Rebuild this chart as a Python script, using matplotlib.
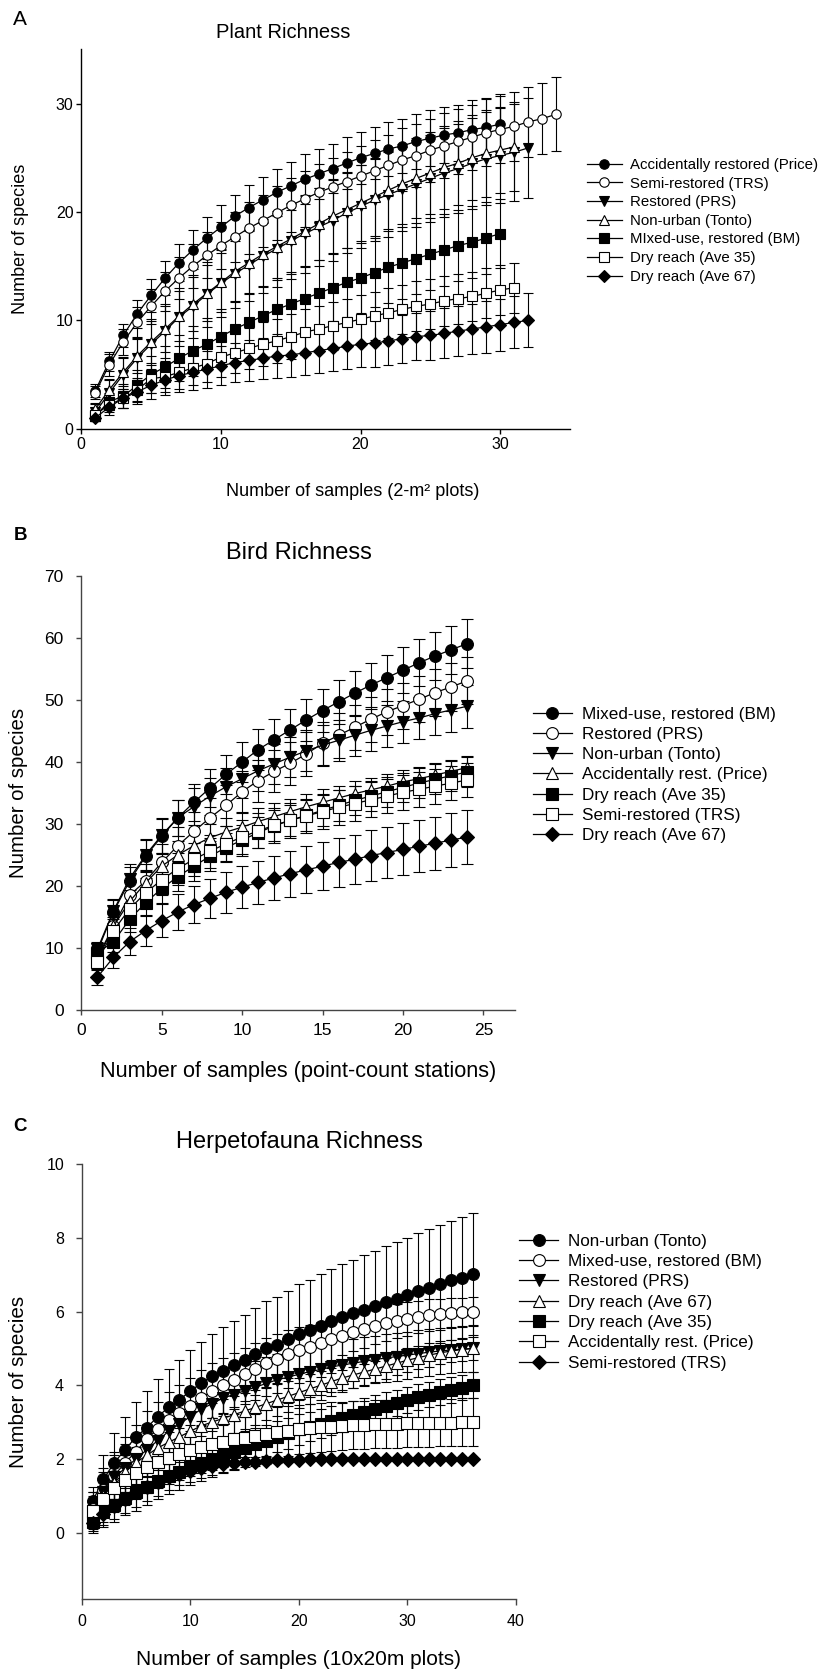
import matplotlib
matplotlib.use("Agg")
import matplotlib.pyplot as plt

plt.rcParams['font.family'] = ['Liberation Sans', 'DejaVu Sans']

# ---------------- Panel A: plant richness ----------------
a_labels = ["Accidentally restored (Price)", "Semi-restored (TRS)", "Restored (PRS)",
            "Non-urban (Tonto)", "MIxed-use, restored (BM)", "Dry reach (Ave 35)",
            "Dry reach (Ave 67)"]
a_price = [3.5, 6.2, 8.6, 10.6, 12.3, 13.9, 15.3, 16.5, 17.6, 18.6, 19.6, 20.4, 21.1, 21.8, 22.4,
           23.0, 23.5, 24.0, 24.5, 25.0, 25.4, 25.8, 26.1, 26.5, 26.8, 27.1, 27.3, 27.6, 27.8, 28.1]
a_price_err = [0.6, 0.9, 1.1, 1.3, 1.5, 1.6, 1.7, 1.8, 1.9, 2.0, 2.0, 2.1, 2.1, 2.2, 2.2,
               2.3, 2.3, 2.3, 2.4, 2.4, 2.4, 2.5, 2.5, 2.5, 2.6, 2.6, 2.6, 2.7, 2.7, 2.8]
a_trs = [3.3, 5.9, 8.0, 9.8, 11.3, 12.7, 13.9, 15.0, 16.0, 16.9, 17.7, 18.5, 19.2, 19.9, 20.6, 21.2, 21.8,
         22.3, 22.8, 23.3, 23.8, 24.3, 24.8, 25.2, 25.7, 26.1, 26.5, 26.9, 27.3, 27.6, 27.9, 28.3, 28.6, 29.0]
a_trs_err = [0.6, 1.0, 1.2, 1.4, 1.6, 1.8, 1.9, 2.0, 2.1, 2.2, 2.3, 2.4, 2.4, 2.5, 2.5, 2.6, 2.6,
             2.7, 2.7, 2.8, 2.8, 2.8, 2.9, 2.9, 2.9, 3.0, 3.0, 3.0, 3.1, 3.1, 3.2, 3.2, 3.3, 3.4]
a_prs = [1.5, 3.3, 5.0, 6.5, 7.8, 9.0, 10.3, 11.3, 12.4, 13.4, 14.3, 15.1, 15.9, 16.6, 17.3, 18.0,
         18.6, 19.2, 19.9, 20.5, 21.1, 21.6, 22.1, 22.6, 23.1, 23.6, 24.0, 24.5, 24.9, 25.2, 25.5, 25.9]
a_prs_err = [0.8, 1.2, 1.6, 2.0, 2.3, 2.5, 2.7, 2.9, 3.0, 3.1, 3.2, 3.3, 3.4, 3.5, 3.5, 3.6,
             3.6, 3.7, 3.7, 3.8, 3.8, 3.9, 3.9, 4.0, 4.0, 4.1, 4.1, 4.2, 4.3, 4.4, 4.5, 4.6]
a_tonto = [1.8, 3.6, 5.2, 6.7, 8.0, 9.2, 10.4, 11.5, 12.5, 13.5, 14.5, 15.3, 16.1, 16.8, 17.5, 18.2,
           18.9, 19.6, 20.2, 20.8, 21.4, 22.0, 22.6, 23.1, 23.6, 24.1, 24.5, 25.0, 25.4, 25.7, 26.0]
a_tonto_err = [0.6, 1.0, 1.3, 1.6, 1.9, 2.1, 2.3, 2.5, 2.6, 2.7, 2.8, 2.9, 3.0, 3.1, 3.2, 3.3,
               3.3, 3.4, 3.5, 3.5, 3.6, 3.6, 3.7, 3.7, 3.8, 3.8, 3.9, 3.9, 4.0, 4.0, 4.1]
a_bm = [1.2, 2.5, 3.0, 4.0, 5.0, 5.7, 6.5, 7.2, 7.8, 8.5, 9.2, 9.8, 10.4, 11.0, 11.5,
        12.0, 12.5, 13.0, 13.5, 13.9, 14.4, 14.9, 15.3, 15.7, 16.1, 16.5, 16.9, 17.2, 17.6, 18.0]
a_bm_err = [0.5, 0.8, 1.1, 1.4, 1.7, 1.9, 2.1, 2.3, 2.4, 2.5, 2.6, 2.7, 2.8, 2.9, 3.0,
            3.0, 3.1, 3.1, 3.2, 3.2, 3.2, 3.3, 3.3, 3.3, 3.3, 3.3, 3.3, 3.3, 3.3, 3.2]
a_dry35 = [1.3, 2.2, 2.8, 3.6, 4.6, 4.8, 5.2, 5.6, 6.0, 6.6, 7.0, 7.4, 7.8, 8.1, 8.5, 8.9,
           9.2, 9.5, 9.8, 10.1, 10.4, 10.7, 11.0, 11.3, 11.5, 11.8, 12.0, 12.2, 12.5, 12.8, 13.0]
a_dry35_err = [0.4, 0.7, 0.9, 1.1, 1.3, 1.4, 1.5, 1.6, 1.7, 1.8, 1.9, 1.9, 2.0, 2.0, 2.1, 2.1,
               2.1, 2.2, 2.2, 2.2, 2.2, 2.3, 2.3, 2.3, 2.3, 2.3, 2.3, 2.3, 2.3, 2.3, 2.3]
a_dry67 = [1.0, 2.0, 2.8, 3.4, 4.0, 4.5, 4.9, 5.2, 5.5, 5.8, 6.1, 6.3, 6.5, 6.7, 6.8, 7.0,
           7.2, 7.4, 7.6, 7.8, 7.9, 8.1, 8.3, 8.5, 8.6, 8.8, 9.0, 9.2, 9.4, 9.6, 9.8, 10.0]
a_dry67_err = [0.3, 0.7, 0.9, 1.1, 1.3, 1.4, 1.5, 1.6, 1.7, 1.8, 1.8, 1.9, 1.9, 2.0, 2.0, 2.0,
               2.1, 2.1, 2.1, 2.1, 2.2, 2.2, 2.2, 2.2, 2.3, 2.3, 2.3, 2.3, 2.4, 2.4, 2.4, 2.5]

# ---------------- Panel B: bird richness ----------------
b_labels = ["Mixed-use, restored (BM)", "Restored (PRS)", "Non-urban (Tonto)",
            "Accidentally rest. (Price)", "Dry reach (Ave 35)", "Semi-restored (TRS)",
            "Dry reach (Ave 67)"]
b_bm = [9.5, 15.8, 20.8, 24.8, 28.0, 31.0, 33.5, 35.8, 38.0, 40.0, 42.0, 43.6,
        45.2, 46.8, 48.3, 49.7, 51.1, 52.4, 53.6, 54.8, 56.0, 57.1, 58.1, 59.1]
b_bm_err = [1.3, 2.0, 2.3, 2.6, 2.8, 2.9, 3.0, 3.1, 3.2, 3.2, 3.3, 3.3,
            3.4, 3.4, 3.5, 3.5, 3.6, 3.6, 3.7, 3.7, 3.8, 3.8, 3.9, 4.0]
b_prs = [8.0, 13.5, 18.5, 20.8, 23.8, 26.5, 28.8, 31.0, 33.0, 35.2, 37.0, 38.5,
         39.8, 41.3, 43.0, 44.3, 45.6, 46.9, 48.1, 49.1, 50.1, 51.2, 52.1, 53.1]
b_prs_err = [1.3, 2.0, 2.4, 2.7, 2.9, 3.0, 3.1, 3.2, 3.3, 3.3, 3.4, 3.4,
             3.5, 3.5, 3.5, 3.6, 3.6, 3.6, 3.7, 3.7, 3.7, 3.8, 3.8, 3.8]
b_tonto = [9.8, 16.0, 21.2, 25.0, 28.2, 31.0, 32.8, 34.5, 36.0, 37.3, 38.6, 39.7,
           40.8, 41.8, 42.7, 43.5, 44.3, 45.1, 45.8, 46.5, 47.1, 47.8, 48.4, 49.0]
b_tonto_err = [1.2, 1.9, 2.3, 2.6, 2.8, 2.9, 3.0, 3.0, 3.1, 3.1, 3.2, 3.2,
               3.2, 3.3, 3.3, 3.3, 3.3, 3.4, 3.4, 3.4, 3.4, 3.5, 3.5, 3.5]
b_price = [8.5, 13.5, 17.5, 20.5, 23.2, 25.0, 26.5, 27.8, 28.7, 29.5, 30.4, 31.2,
           32.0, 32.8, 33.5, 34.2, 34.9, 35.5, 36.1, 36.8, 37.3, 37.9, 38.5, 39.1]
b_price_err = [1.0, 1.5, 1.8, 2.0, 2.1, 2.2, 2.2, 2.2, 2.2, 2.2, 2.2, 2.2,
               2.1, 2.1, 2.1, 2.0, 2.0, 2.0, 2.0, 1.9, 1.9, 1.9, 1.8, 1.8]
b_dry35 = [9.2, 11.0, 14.6, 17.3, 19.6, 21.5, 23.2, 24.8, 26.2, 27.4, 28.6, 29.7,
           30.6, 31.4, 32.2, 33.0, 33.8, 34.5, 35.2, 35.9, 36.6, 37.2, 37.8, 38.4]
b_dry35_err = [1.2, 1.7, 2.0, 2.2, 2.3, 2.3, 2.4, 2.4, 2.4, 2.5, 2.5, 2.5,
               2.5, 2.5, 2.5, 2.5, 2.4, 2.4, 2.4, 2.4, 2.4, 2.4, 2.4, 2.4]
b_trs = [7.8, 12.8, 16.3, 18.9, 21.0, 22.8, 24.3, 25.6, 26.8, 27.9, 28.9, 29.8,
         30.6, 31.3, 32.0, 32.7, 33.3, 33.9, 34.5, 35.1, 35.6, 36.1, 36.6, 37.1]
b_trs_err = [1.2, 1.8, 2.2, 2.4, 2.5, 2.6, 2.7, 2.7, 2.8, 2.8, 2.8, 2.8,
             2.8, 2.8, 2.8, 2.8, 2.8, 2.8, 2.8, 2.8, 2.8, 2.8, 2.8, 2.8]
b_dry67 = [5.3, 8.5, 11.0, 12.8, 14.4, 15.8, 17.0, 18.0, 19.0, 19.8, 20.6, 21.3,
           22.0, 22.6, 23.2, 23.8, 24.3, 24.9, 25.4, 25.9, 26.4, 26.9, 27.4, 27.9]
b_dry67_err = [1.2, 1.8, 2.2, 2.5, 2.7, 2.9, 3.0, 3.2, 3.3, 3.4, 3.5, 3.6,
               3.7, 3.8, 3.9, 4.0, 4.0, 4.1, 4.1, 4.2, 4.2, 4.3, 4.3, 4.4]

# ---------------- Panel C: herpetofauna richness ----------------
c_labels = ["Non-urban (Tonto)", "Mixed-use, restored (BM)", "Restored (PRS)",
            "Dry reach (Ave 67)", "Dry reach (Ave 35)", "Accidentally rest. (Price)",
            "Semi-restored (TRS)"]
c_tonto = [0.85, 1.45, 1.9, 2.25, 2.6, 2.85, 3.15, 3.4, 3.6, 3.85, 4.05, 4.25,
           4.4, 4.55, 4.7, 4.85, 5.0, 5.1, 5.25, 5.4, 5.5, 5.62, 5.75, 5.85,
           5.95, 6.05, 6.15, 6.25, 6.35, 6.45, 6.55, 6.65, 6.75, 6.85, 6.92, 7.02]
c_tonto_err = [0.4, 0.65, 0.8, 0.9, 0.95, 1.0, 1.02, 1.05, 1.08, 1.1, 1.12, 1.15,
               1.18, 1.2, 1.22, 1.25, 1.28, 1.3, 1.32, 1.35, 1.37, 1.4, 1.42, 1.44,
               1.46, 1.48, 1.5, 1.52, 1.54, 1.56, 1.58, 1.6, 1.61, 1.62, 1.64, 1.65]
c_bm = [0.65, 1.15, 1.55, 1.9, 2.2, 2.55, 2.8, 3.05, 3.25, 3.45, 3.65, 3.85,
        4.0, 4.15, 4.3, 4.45, 4.6, 4.72, 4.85, 4.95, 5.05, 5.15, 5.25, 5.35,
        5.45, 5.52, 5.6, 5.68, 5.75, 5.8, 5.85, 5.9, 5.93, 5.96, 5.98, 6.0]
c_bm_err = [0.45, 0.6, 0.65, 0.7, 0.72, 0.74, 0.75, 0.76, 0.76, 0.76, 0.76, 0.75,
            0.74, 0.73, 0.72, 0.7, 0.68, 0.66, 0.64, 0.62, 0.6, 0.58, 0.56, 0.54,
            0.52, 0.5, 0.49, 0.48, 0.46, 0.45, 0.44, 0.43, 0.42, 0.41, 0.4, 0.4]
c_prs = [0.6, 1.1, 1.5, 1.75, 2.0, 2.25, 2.5, 2.75, 2.95, 3.15, 3.35, 3.5,
         3.65, 3.75, 3.85, 3.95, 4.05, 4.15, 4.22, 4.3, 4.37, 4.43, 4.5, 4.55,
         4.6, 4.65, 4.7, 4.74, 4.78, 4.82, 4.86, 4.9, 4.93, 4.96, 4.98, 5.0]
c_prs_err = [0.4, 0.55, 0.6, 0.65, 0.68, 0.7, 0.72, 0.73, 0.74, 0.74, 0.74, 0.74,
             0.73, 0.73, 0.72, 0.72, 0.71, 0.7, 0.7, 0.69, 0.68, 0.68, 0.67, 0.67,
             0.66, 0.66, 0.65, 0.65, 0.65, 0.64, 0.64, 0.64, 0.63, 0.63, 0.63, 0.63]
c_dry67 = [0.55, 1.0, 1.35, 1.65, 1.9, 2.1, 2.3, 2.45, 2.6, 2.75, 2.9, 3.0,
           3.1, 3.2, 3.3, 3.4, 3.5, 3.6, 3.7, 3.8, 3.9, 4.0, 4.1, 4.2,
           4.28, 4.36, 4.44, 4.52, 4.6, 4.68, 4.75, 4.82, 4.88, 4.93, 4.97, 5.0]
c_dry67_err = [0.35, 0.5, 0.55, 0.58, 0.6, 0.6, 0.6, 0.6, 0.58, 0.56, 0.55, 0.53,
               0.52, 0.5, 0.48, 0.47, 0.45, 0.44, 0.42, 0.41, 0.4, 0.39, 0.38, 0.37,
               0.36, 0.35, 0.34, 0.34, 0.33, 0.33, 0.32, 0.32, 0.31, 0.31, 0.3, 0.3]
c_dry35 = [0.3, 0.55, 0.75, 0.95, 1.1, 1.25, 1.4, 1.55, 1.65, 1.78, 1.9, 2.0,
           2.1, 2.2, 2.3, 2.4, 2.5, 2.6, 2.7, 2.8, 2.88, 2.96, 3.04, 3.12,
           3.2, 3.28, 3.36, 3.44, 3.52, 3.6, 3.68, 3.75, 3.82, 3.88, 3.94, 4.0]
c_dry35_err = [0.3, 0.4, 0.45, 0.48, 0.5, 0.5, 0.5, 0.5, 0.5, 0.5, 0.49, 0.48,
               0.47, 0.46, 0.45, 0.44, 0.43, 0.42, 0.42, 0.41, 0.4, 0.4, 0.39, 0.39,
               0.38, 0.38, 0.37, 0.37, 0.36, 0.36, 0.36, 0.35, 0.35, 0.35, 0.35, 0.35]
c_price = [0.6, 0.9, 1.2, 1.42, 1.62, 1.78, 1.92, 2.03, 2.13, 2.23, 2.33, 2.4,
           2.47, 2.53, 2.58, 2.63, 2.67, 2.72, 2.76, 2.8, 2.83, 2.86, 2.88, 2.9,
           2.92, 2.93, 2.94, 2.95, 2.96, 2.97, 2.98, 2.98, 2.99, 2.99, 3.0, 3.0]
c_price_err = [0.5, 0.6, 0.65, 0.68, 0.7, 0.7, 0.7, 0.7, 0.7, 0.7, 0.7, 0.7,
               0.7, 0.69, 0.69, 0.68, 0.68, 0.68, 0.67, 0.67, 0.67, 0.66, 0.66, 0.66,
               0.66, 0.65, 0.65, 0.65, 0.65, 0.65, 0.65, 0.65, 0.65, 0.65, 0.65, 0.65]
c_trs = [0.25, 0.5, 0.72, 0.92, 1.1, 1.25, 1.38, 1.5, 1.6, 1.68, 1.75, 1.8,
         1.85, 1.88, 1.91, 1.93, 1.95, 1.96, 1.97, 1.98, 1.99, 1.99, 2.0, 2.0,
         2.0, 2.0, 2.0, 2.0, 2.0, 2.0, 2.0, 2.0, 2.0, 2.0, 2.0, 2.0]
c_trs_err = [0.2, 0.3, 0.35, 0.38, 0.4, 0.4, 0.38, 0.35, 0.32, 0.3, 0.27, 0.24,
             0.2, 0.17, 0.14, 0.11, 0.09, 0.07, 0.05, 0.04, 0.03, 0.02, 0.01, 0.01,
             0.0, 0.0, 0.0, 0.0, 0.0, 0.0, 0.0, 0.0, 0.0, 0.0, 0.0, 0.0]

markers = ['o', 'o', 'v', '^', 's', 's', 'D']
filled = [True, False, True, False, True, False, True]

W, H = 820, 1672
fig = plt.figure(figsize=(W / 100, H / 100), dpi=100)


def rect(left, top, right, bottom):
    return [left / W, 1 - bottom / H, (right - left) / W, (bottom - top) / H]


def put(x, y, s, **kw):
    fig.text(x / W, 1 - y / H, s, **kw)


def panel(ax, labels, series, errs, ms, cap, spine_col):
    handles = []
    for lab, ys, es, mk, fl in zip(labels, series, errs, markers, filled):
        xs = list(range(1, len(ys) + 1))
        ms_k = ms * 0.85 if mk == 'D' else ms
        c = ax.errorbar(xs, ys, yerr=es, fmt='-', marker=mk, color='black',
                        mfc='black' if fl else 'white', mec='black', ms=ms_k, mew=0.8,
                        lw=0.9, elinewidth=0.8, capsize=cap, capthick=0.8)
        handles.append(c[0])
    for s in ['top', 'right']:
        ax.spines[s].set_visible(False)
    for s in ['left', 'bottom']:
        ax.spines[s].set_color(spine_col)
        ax.spines[s].set_linewidth(1.0)
    ax.tick_params(direction='out', color=spine_col, width=1.0)
    return handles


# Panel A
axA = fig.add_axes(rect(81.3, 49.3, 570, 428.7))
hA = panel(axA, a_labels, [a_price, a_trs, a_prs, a_tonto, a_bm, a_dry35, a_dry67],
           [a_price_err, a_trs_err, a_prs_err, a_tonto_err, a_bm_err, a_dry35_err, a_dry67_err],
           6.8, 3.4, 'black')
axA.set_xlim(0, 35)
axA.set_ylim(0, 35)
axA.set_xticks([0, 10, 20, 30])
axA.set_yticks([0, 10, 20, 30])
axA.tick_params(labelsize=11.5, length=3.6)
axA.tick_params(axis='x', pad=2.5)
axA.tick_params(axis='y', pad=2)
fig.legend(hA, a_labels, loc='center left', bbox_to_anchor=(587 / W, 1 - 220.8 / H),
           frameon=False, fontsize=10.8, handlelength=2.33, handletextpad=0.53,
           labelspacing=0.31, borderpad=0, borderaxespad=0)
put(20, 25, "A", fontsize=15, ha='center', va='baseline')
put(283.6, 38.3, "Plant Richness", fontsize=14.5, ha='center', va='baseline')
put(20.5, 239, "Number of species", fontsize=13, rotation=90, ha='center', va='center')
put(353, 496, "Number of samples (2-m² plots)", fontsize=13, ha='center', va='baseline')

# Panel B
axB = fig.add_axes(rect(81.3, 576, 515.5, 1010))
hB = panel(axB, b_labels, [b_bm, b_prs, b_tonto, b_price, b_dry35, b_trs, b_dry67],
           [b_bm_err, b_prs_err, b_tonto_err, b_price_err, b_dry35_err, b_trs_err, b_dry67_err],
           8.5, 4.3, '#444444')
axB.set_xlim(0, 27)
axB.set_ylim(0, 70)
axB.set_xticks([0, 5, 10, 15, 20, 25])
axB.set_yticks([0, 10, 20, 30, 40, 50, 60, 70])
axB.tick_params(labelsize=12.5, length=3.6)
axB.tick_params(axis='x', pad=6)
axB.tick_params(axis='y', pad=9)
fig.legend(hB, b_labels, loc='center left', bbox_to_anchor=(532.7 / W, 1 - 774.9 / H),
           frameon=False, fontsize=12.3, handlelength=2.28, handletextpad=0.58,
           labelspacing=0.31, borderpad=0, borderaxespad=0)
put(20.7, 540, "B", fontsize=13.5, fontweight='bold', ha='center', va='baseline')
put(299, 559.3, "Bird Richness", fontsize=17, ha='center', va='baseline')
put(19, 793, "Number of species", fontsize=14.7, rotation=90, ha='center', va='center')
put(298, 1077, "Number of samples (point-count stations)", fontsize=15.7,
    ha='center', va='baseline')

# Panel C
axC = fig.add_axes(rect(81.7, 1164.3, 516, 1599.3))
hC = panel(axC, c_labels, [c_tonto, c_bm, c_prs, c_dry67, c_dry35, c_price, c_trs],
           [c_tonto_err, c_bm_err, c_prs_err, c_dry67_err, c_dry35_err, c_price_err, c_trs_err],
           8.5, 3.8, '#444444')
axC.set_xlim(0, 40)
axC.set_ylim(-1.81, 10)
axC.set_xticks([0, 10, 20, 30, 40])
axC.set_yticks([0, 2, 4, 6, 8, 10])
axC.tick_params(labelsize=11.5, length=4.3)
axC.tick_params(axis='x', pad=6.5)
axC.tick_params(axis='y', pad=8.4)
fig.legend(hC, c_labels, loc='center left', bbox_to_anchor=(519.3 / W, 1 - 1302.2 / H),
           frameon=False, fontsize=12.3, handlelength=2.28, handletextpad=0.58,
           labelspacing=0.31, borderpad=0, borderaxespad=0)
put(19.6, 1131, "C", fontsize=13.5, fontweight='bold', ha='center', va='baseline')
put(299, 1148, "Herpetofauna Richness", fontsize=17, ha='center', va='baseline')
put(18.8, 1382, "Number of species", fontsize=14.9, rotation=90, ha='center', va='center')
put(299, 1665, "Number of samples (10x20m plots)", fontsize=15, ha='center', va='baseline')

fig.savefig("out.png", dpi=100)
